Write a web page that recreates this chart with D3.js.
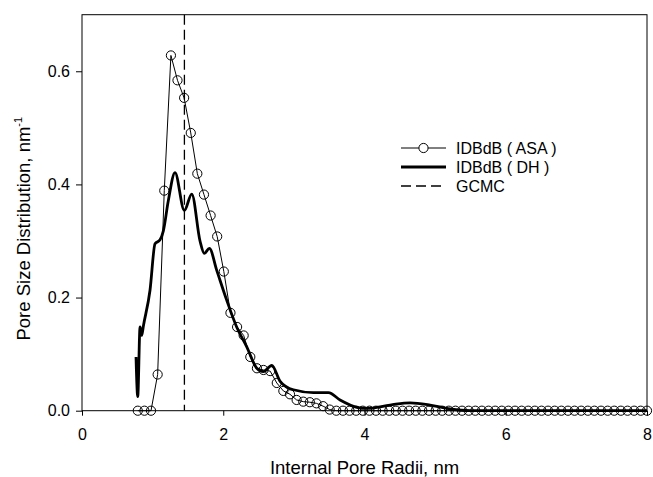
<!DOCTYPE html>
<html>
<head>
<meta charset="utf-8">
<script src="https://cdn.jsdelivr.net/npm/d3@7"></script>
<style>
  body { margin: 0; background: #fff; }
  text { font-family: "Liberation Sans", Arial, sans-serif; }
</style>
</head>
<body>
<div id="container"></div>
<script>
// ASA series (circles)
let asaX = [0.79, 0.884, 0.977, 1.071, 1.165, 1.259, 1.352, 1.446, 1.540, 1.633,
  1.727, 1.821, 1.914, 2.008, 2.102, 2.196, 2.289, 2.383, 2.477, 2.570,
  2.664, 2.758, 2.851, 2.945, 3.039, 3.133, 3.226, 3.320, 3.414, 3.507,
  3.601, 3.695, 3.788, 3.882, 3.976, 4.070, 4.163, 4.257, 4.351, 4.444,
  4.538, 4.632, 4.725, 4.819, 4.913, 5.007, 5.100, 5.194, 5.288, 5.381,
  5.475, 5.569, 5.662, 5.756, 5.850, 5.944, 6.037, 6.131, 6.225, 6.318,
  6.412, 6.506, 6.599, 6.693, 6.787, 6.881, 6.974, 7.068, 7.162, 7.255,
  7.349, 7.443, 7.536, 7.630, 7.724, 7.818, 7.911, 8.0];
let asaY = [0, 0, 0, 0.064, 0.389, 0.628, 0.584, 0.553, 0.491, 0.419,
  0.382, 0.345, 0.308, 0.246, 0.173, 0.148, 0.133, 0.095, 0.075, 0.072,
  0.070, 0.049, 0.035, 0.029, 0.019, 0.016, 0.015, 0.013, 0.008, 0.002,
  0, 0, 0, 0, 0, 0, 0, 0, 0, 0,
  0, 0, 0, 0, 0, 0, 0, 0, 0, 0,
  0, 0, 0, 0, 0, 0, 0, 0, 0, 0,
  0, 0, 0, 0, 0, 0, 0, 0, 0, 0,
  0, 0, 0, 0, 0, 0, 0, 0];

// DH series (thick line)
let dhX = [0.765, 0.789, 0.822, 0.846, 0.868, 0.963, 1.034, 1.105, 1.152, 1.222,
  1.317, 1.449, 1.554, 1.671, 1.732, 1.803, 1.908, 2.05, 2.19, 2.333,
  2.475, 2.568, 2.687, 2.805, 2.993, 3.276, 3.489, 3.654, 3.891, 4.033,
  4.363, 4.646, 4.929, 5.212, 5.5, 8.0];
let dhY = [0.095, 0.025, 0.148, 0.133, 0.149, 0.213, 0.295, 0.302, 0.318, 0.371,
  0.421, 0.354, 0.383, 0.300, 0.278, 0.287, 0.248, 0.195, 0.148, 0.113,
  0.075, 0.069, 0.080, 0.052, 0.037, 0.032, 0.032, 0.019, 0.006, 0.004,
  0.010, 0.014, 0.010, 0.003, 0, 0];

// GCMC reference radius
let gcmcX = 1.45;

let xTicks = [0, 2, 4, 6, 8];
let yTicks = [0.0, 0.2, 0.4, 0.6];
let legendLabels = ["IDBdB ( ASA )", "IDBdB ( DH )", "GCMC"];

let width = 653;
let height = 477;
let margin = { top: 14.7, right: 6, bottom: 66.3, left: 82 };

let svg = d3.select("#container")
  .append("svg")
  .attr("width", width)
  .attr("height", height);

let x = d3.scaleLinear().domain([0, 8]).range([margin.left, width - margin.right]);
let y = d3.scaleLinear().domain([0, 0.7]).range([height - margin.bottom, margin.top]);

// frame
svg.append("rect")
  .attr("x", x(0)).attr("y", y(0.7))
  .attr("width", x(8) - x(0)).attr("height", y(0) - y(0.7))
  .attr("fill", "none").attr("stroke", "#000").attr("stroke-width", 1);

// axes
let xAxis = svg.append("g")
  .attr("transform", `translate(0,${y(0)})`)
  .call(d3.axisBottom(x).tickValues(xTicks).tickSize(5).tickPadding(13).tickFormat(d3.format("d")));
let yAxis = svg.append("g")
  .attr("transform", `translate(${x(0)},0)`)
  .call(d3.axisLeft(y).tickValues(yTicks).tickSize(6).tickPadding(6).tickFormat(d3.format(".1f")));
[xAxis, yAxis].forEach(g => {
  g.select(".domain").remove();
  g.selectAll("line").attr("stroke", "#000");
  g.selectAll("text").attr("font-size", 16).attr("fill", "#000")
    .style("font-family", "'Liberation Sans', Arial, sans-serif");
});

// axis titles
svg.append("text")
  .attr("x", (x(0) + x(8)) / 2).attr("y", 474)
  .attr("text-anchor", "middle").attr("font-size", 18.5)
  .text("Internal Pore Radii, nm");

let yTitle = svg.append("text")
  .attr("transform", `translate(30,${(y(0) + y(0.7)) / 2 + 16}) rotate(-90)`)
  .attr("text-anchor", "middle").attr("font-size", 18.5);
yTitle.append("tspan").text("Pore Size Distribution, nm");
yTitle.append("tspan").attr("dy", -8).attr("font-size", 11).text("-1");

let plot = svg.append("g");

// GCMC dashed line
plot.append("line")
  .attr("x1", x(gcmcX)).attr("x2", x(gcmcX))
  .attr("y1", y(0.7)).attr("y2", y(0))
  .attr("stroke", "#000").attr("stroke-width", 1.3)
  .attr("stroke-dasharray", "10,5");

// DH thick line
let dhData = dhX.map((d, i) => [d, dhY[i]]);
plot.append("path")
  .datum(dhData)
  .attr("fill", "none").attr("stroke", "#000").attr("stroke-width", 2.8)
  .attr("stroke-linejoin", "round")
  .attr("d", d3.line().x(d => x(d[0])).y(d => y(d[1])).curve(d3.curveMonotoneX));

// ASA thin line + circles
let asaData = asaX.map((d, i) => [d, asaY[i]]);
plot.append("path")
  .datum(asaData)
  .attr("fill", "none").attr("stroke", "#000").attr("stroke-width", 1)
  .attr("d", d3.line().x(d => x(d[0])).y(d => y(d[1])));

plot.selectAll("circle.asa")
  .data(asaData)
  .enter()
  .append("circle")
  .attr("class", "asa")
  .attr("cx", d => x(d[0]))
  .attr("cy", d => y(d[1]))
  .attr("r", 4.6)
  .attr("fill", "none")
  .attr("stroke", "#000")
  .attr("stroke-width", 1);

// legend
let lx1 = 401, lx2 = 446, ly = 148, step = 19;
let legend = svg.append("g");
legendLabels.forEach((lab, i) => {
  let yy = ly + i * step;
  let ln = legend.append("line")
    .attr("x1", lx1).attr("x2", lx2).attr("y1", yy).attr("y2", yy)
    .attr("stroke", "#000");
  if (i === 0) ln.attr("stroke-width", 1);
  if (i === 1) ln.attr("stroke-width", 2.8);
  if (i === 2) ln.attr("stroke-width", 1.3).attr("stroke-dasharray", "10,5");
  if (i === 0) {
    legend.append("circle").attr("cx", (lx1 + lx2) / 2).attr("cy", yy).attr("r", 4.6)
      .attr("fill", "#fff").attr("stroke", "#000");
  }
  legend.append("text")
    .attr("x", 456).attr("y", yy + 5.5)
    .attr("font-size", 16)
    .text(lab);
});
</script>
</body>
</html>
